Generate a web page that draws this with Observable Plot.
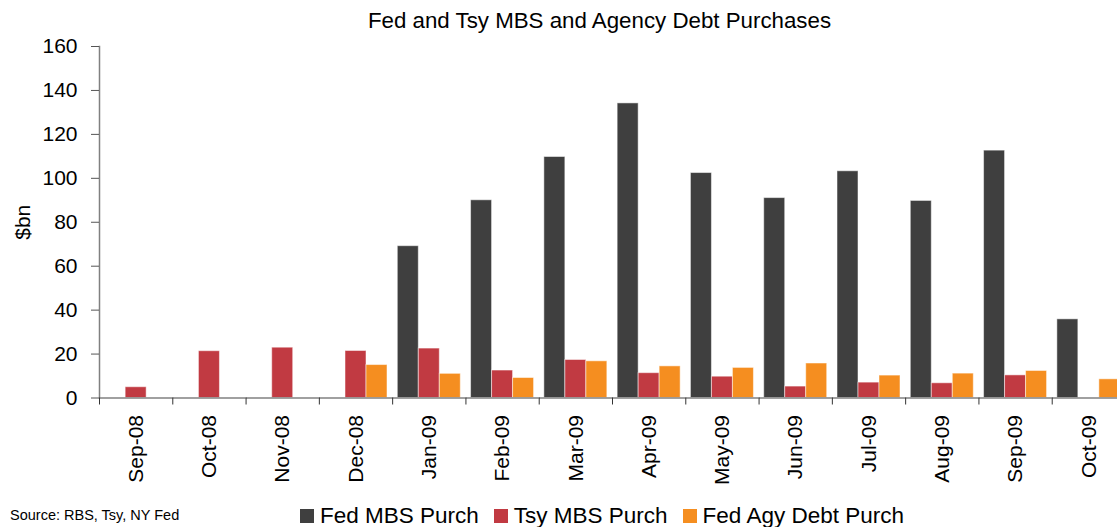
<!DOCTYPE html>
<html>
<head>
<meta charset="utf-8">
<script src="https://cdn.jsdelivr.net/npm/d3@7"></script>
<script src="https://cdn.jsdelivr.net/npm/@observablehq/plot@0.6"></script>
<style>
  html, body { margin: 0; padding: 0; background: #fff; overflow: hidden; }
  #wrap { position: relative; width: 1117px; height: 527px; font-family: "Liberation Sans", Arial, sans-serif; color: #000; }
  #title { position: absolute; left: 0; top: 10px; width: 1199px; text-align: center; font-size: 22.3px; line-height: 1; z-index: 2; }
  #chart { position: absolute; left: 0; top: 30px; z-index: 1; }
  #source { position: absolute; left: 10px; top: 508px; font-size: 14.5px; line-height: 1; z-index: 2; }
  #legend { position: absolute; left: 300px; top: 505px; display: flex; align-items: center; font-size: 22.5px; line-height: 1; white-space: nowrap; z-index: 2; }
  .item { display: flex; align-items: center; margin-right: 15px; }
  .sw { width: 14px; height: 14px; margin-right: 6px; }
</style>
</head>
<body>
<div id="wrap">
  <div id="title">Fed and Tsy MBS and Agency Debt Purchases</div>
  <div id="chart"></div>
  <div id="source">Source: RBS, Tsy, NY Fed</div>
  <div id="legend"></div>
</div>
<script>
const months = ["Sep-08","Oct-08","Nov-08","Dec-08","Jan-09","Feb-09","Mar-09","Apr-09","May-09","Jun-09","Jul-09","Aug-09","Sep-09","Oct-09"];
const seriesNames = ["Fed MBS Purch","Tsy MBS Purch","Fed Agy Debt Purch"];
const seriesColors = ["#3f3f3f","#c13a42","#f58e20"];
const fedMBS = [0,0,0,0,69.1,90.0,109.7,134.1,102.4,91.0,103.2,89.7,112.6,35.8];
const tsyMBS = [4.9,21.3,22.9,21.4,22.5,12.5,17.3,11.3,9.7,5.2,7.0,6.7,10.3,0];
const fedAgy = [0,0,0,15.0,11.0,9.1,16.7,14.4,13.7,15.7,10.2,11.1,12.3,8.5];
const yTicks = [0,20,40,60,80,100,120,140,160];

const seriesValues = [fedMBS, tsyMBS, fedAgy];
const data = [];
months.forEach((m, i) => {
  seriesNames.forEach((s, j) => {
    data.push({month: m, series: s, value: seriesValues[j][i]});
  });
});

const W = 1117, H = 463, mL = 99, mR = -8;
const step = (W - mL - mR) / months.length;
const font = '"Liberation Sans", Arial, sans-serif';

const chart = Plot.plot({
  width: W,
  height: H,
  marginLeft: mL,
  marginRight: mR,
  marginTop: 16,
  marginBottom: 95.5,
  style: {fontFamily: font, background: "transparent", overflow: "hidden", color: "#000"},
  fx: {domain: months, paddingInner: 0, paddingOuter: 0, label: null, round: false},
  x: {domain: seriesNames, paddingInner: 0, paddingOuter: 0.245, axis: null, round: false},
  y: {domain: [0, 160], ticks: yTicks, label: null},
  color: {domain: seriesNames, range: seriesColors},
  marks: [
    Plot.barY(data, {
      filter: d => d.value > 0,
      fx: "month", x: "series", y: "value", fill: "series",
      stroke: "white", strokeOpacity: 0.5, strokeWidth: 1
    }),
    Plot.ruleY([0], {stroke: "#808080", strokeWidth: 1.5}),
    Plot.frame({anchor: "left", facet: "super", stroke: "#808080", strokeWidth: 1.5}),
    Plot.axisY({ticks: yTicks, tickSize: 8, tickPadding: 14, fontSize: 21, stroke: "#555",
      label: "$bn", labelAnchor: "center", labelOffset: 84, labelArrow: "none"}),
    Plot.axisFx({anchor: "bottom", text: null, tickSize: 7, dx: -step / 2, stroke: "#333", label: null}),
    Plot.axisFx({anchor: "bottom", tickSize: 0, tickPadding: 17, tickRotate: -90, fontSize: 21, label: null})
  ]
});
document.getElementById("chart").appendChild(chart);

const legend = document.getElementById("legend");
seriesNames.forEach((s, i) => {
  const item = document.createElement("div");
  item.className = "item";
  const sw = document.createElement("div");
  sw.className = "sw";
  sw.style.background = seriesColors[i];
  const t = document.createElement("span");
  t.textContent = s;
  item.appendChild(sw);
  item.appendChild(t);
  legend.appendChild(item);
});
</script>
</body>
</html>
